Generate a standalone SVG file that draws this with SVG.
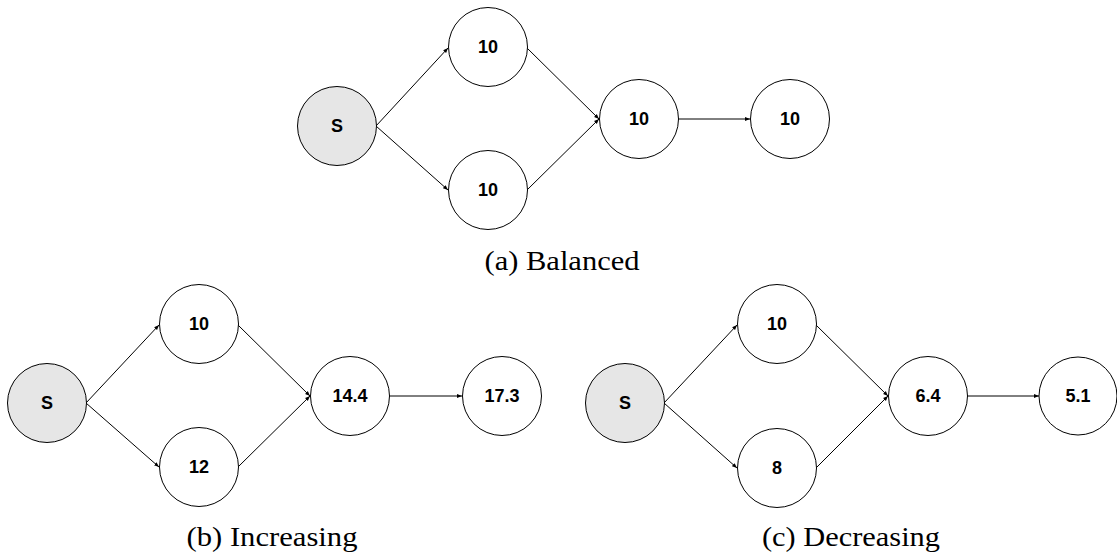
<svg xmlns="http://www.w3.org/2000/svg" width="1117" height="560" viewBox="0 0 1117 560">
  <style>
    .node { fill: #ffffff; stroke: #000000; stroke-width: 1; }
    .src { fill: #e6e6e6; stroke: #000000; stroke-width: 1; }
    .lbl { font-family: "Liberation Sans", Arial, sans-serif; font-weight: bold; font-size: 18px; fill: #000000; text-anchor: middle; dominant-baseline: central; }
    .edge { stroke: #000000; stroke-width: 1; fill: none; marker-end: url(#arrow); }
    .cap { font-family: "Liberation Serif", "Times New Roman", serif; font-size: 27px; fill: #000000; text-anchor: middle; }
  </style>
  <defs>
    <marker id="arrow" viewBox="0 0 6 6" refX="6" refY="3" markerWidth="5" markerHeight="5" markerUnits="userSpaceOnUse" orient="auto">
      <path d="M0,0.6 L6,3 L0,5.4 Z" fill="#000000"/>
    </marker>
  </defs>
  <rect width="1117" height="560" fill="#ffffff"/>

  <!-- connectors -->
  <g id="connectors">
    <!-- (a) balanced -->
    <line class="edge" x1="376" y1="126" x2="448" y2="48"/>
    <line class="edge" x1="376" y1="126" x2="448" y2="190"/>
    <line class="edge" x1="527" y1="48" x2="599" y2="119"/>
    <line class="edge" x1="527" y1="190" x2="599" y2="119"/>
    <line class="edge" x1="678" y1="119" x2="750" y2="119"/>
    <!-- (b) increasing -->
    <line class="edge" x1="86" y1="403" x2="159" y2="325"/>
    <line class="edge" x1="86" y1="403" x2="159" y2="467"/>
    <line class="edge" x1="238" y1="325" x2="310" y2="396"/>
    <line class="edge" x1="238" y1="467" x2="310" y2="396"/>
    <line class="edge" x1="389" y1="396" x2="462" y2="396"/>
    <!-- (c) decreasing -->
    <line class="edge" x1="664" y1="403" x2="737" y2="325"/>
    <line class="edge" x1="664" y1="403" x2="737" y2="468"/>
    <line class="edge" x1="816" y1="325" x2="888" y2="396"/>
    <line class="edge" x1="816" y1="468" x2="888" y2="396"/>
    <line class="edge" x1="967" y1="396" x2="1039" y2="396"/>
  </g>

  <!-- (a) balanced -->
  <g id="a-s"><circle class="src" cx="337" cy="126" r="39.5"/><text class="lbl" x="337" y="126">S</text></g>
  <g id="a-top"><circle class="node" cx="488" cy="47" r="39.5"/><text class="lbl" x="488" y="47">10</text></g>
  <g id="a-bottom"><circle class="node" cx="488" cy="190" r="39.5"/><text class="lbl" x="488" y="190">10</text></g>
  <g id="a-merge"><circle class="node" cx="639" cy="119" r="39.5"/><text class="lbl" x="639" y="119">10</text></g>
  <g id="a-out"><circle class="node" cx="790" cy="119" r="39.5"/><text class="lbl" x="790" y="119">10</text></g>
  <text class="cap" x="562" y="270" textLength="155" lengthAdjust="spacingAndGlyphs">(a) Balanced</text>

  <!-- (b) increasing -->
  <g id="b-s"><circle class="src" cx="47" cy="403" r="39.5"/><text class="lbl" x="47" y="403">S</text></g>
  <g id="b-top"><circle class="node" cx="199" cy="324" r="39.5"/><text class="lbl" x="199" y="324">10</text></g>
  <g id="b-bottom"><circle class="node" cx="199" cy="467" r="39.5"/><text class="lbl" x="199" y="467">12</text></g>
  <g id="b-merge"><circle class="node" cx="350" cy="396" r="39.5"/><text class="lbl" x="350" y="396">14.4</text></g>
  <g id="b-out"><circle class="node" cx="502" cy="396" r="39.5"/><text class="lbl" x="502" y="396">17.3</text></g>
  <text class="cap" x="272" y="546" textLength="171" lengthAdjust="spacingAndGlyphs">(b) Increasing</text>

  <!-- (c) decreasing -->
  <g id="c-s"><circle class="src" cx="625" cy="403" r="39.5"/><text class="lbl" x="625" y="403">S</text></g>
  <g id="c-top"><circle class="node" cx="777" cy="324" r="39.5"/><text class="lbl" x="777" y="324">10</text></g>
  <g id="c-bottom"><circle class="node" cx="777" cy="468" r="39.5"/><text class="lbl" x="777" y="468">8</text></g>
  <g id="c-merge"><circle class="node" cx="928" cy="396" r="39.5"/><text class="lbl" x="928" y="396">6.4</text></g>
  <g id="c-out"><circle class="node" cx="1078" cy="396" r="39"/><text class="lbl" x="1078" y="396">5.1</text></g>
  <text class="cap" x="851" y="546" textLength="178" lengthAdjust="spacingAndGlyphs">(c) Decreasing</text>
</svg>
